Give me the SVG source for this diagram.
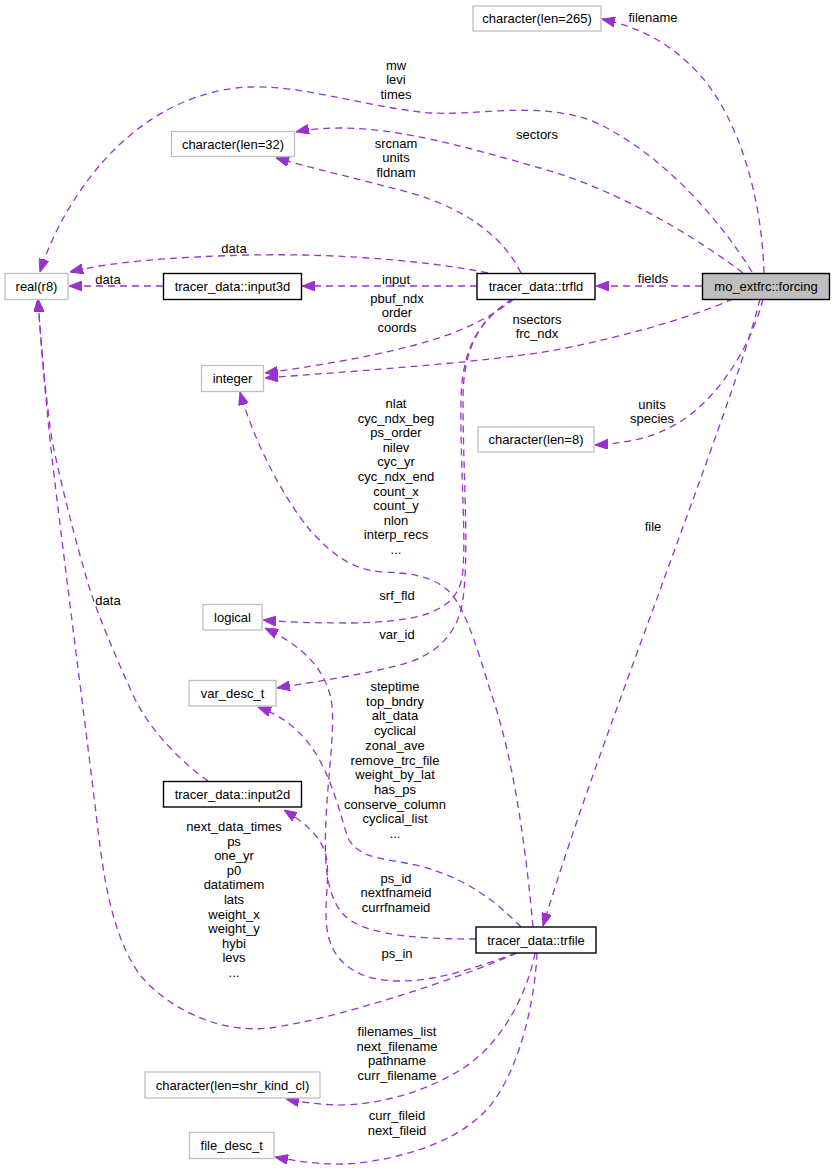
<svg xmlns="http://www.w3.org/2000/svg" width="835" height="1170" viewBox="0 0 835 1170">
<style>
text{font-family:"Liberation Sans",Arial,sans-serif;font-size:13px;fill:#000;text-anchor:middle}
.ng{fill:#fff;stroke:#bfbfbf;stroke-width:1.3}
.nb{fill:#fff;stroke:#000;stroke-width:1.4}
.nf{fill:#bfbfbf;stroke:#000;stroke-width:1.4}
.e{fill:none;stroke:#9a32cd;stroke-width:1.3;stroke-dasharray:7,5;marker-end:url(#ah)}
</style>
<defs>
<marker id="ah" viewBox="0 0 13 10" refX="13" refY="5" markerWidth="13" markerHeight="10" markerUnits="userSpaceOnUse" orient="auto"><path d="M0,0 L13,5 L0,10 z" fill="#9a32cd" stroke="#9a32cd"/></marker>
</defs>
<rect width="835" height="1170" fill="#fff"/>
<g id="edges">
<path class="e" d="M764,273 C762,200 740,120 700,75 C670,42 640,28 602,19"/>
<path class="e" d="M752,272 C720,220 660,150 590,120 C530,100 470,118 420,112 C360,105 300,85 250,87 C180,90 130,130 100,165 C70,200 50,240 40,272"/>
<path class="e" d="M743,273 C700,240 620,190 540,168 C470,148 400,128 340,128 C320,128 305,130 296,132"/>
<path class="e" d="M521,273 C505,240 470,210 411,193 C360,179 310,168 276,158"/>
<path class="e" d="M488,273 C440,263 350,253 250,255 C170,257 110,262 70,272"/>
<path class="e" d="M163,286 L69,286"/>
<path class="e" d="M477,286 L302,286"/>
<path class="e" d="M702,286 L596,286"/>
<path class="e" d="M514,299 C490,318 460,333 415,345 C370,357 310,367 265,373"/>
<path class="e" d="M733,299 C690,318 620,338 550,351 C470,364 340,372 265,378"/>
<path class="e" d="M763,299 C753,338 728,385 690,415 C660,437 630,443 595,445"/>
<path class="e" d="M760,299 C745,360 700,480 660,590 C620,700 575,820 543,926"/>
<path class="e" d="M513,299 C478,320 462,350 461,400 C460,470 467,545 462,578 C455,612 420,622 350,623 C310,623 285,622 263,620"/>
<path class="e" d="M513,299 C478,320 463,350 463,400 C463,480 470,560 462,605 C455,640 430,657 400,665 C360,675 320,681 277,688"/>
<path class="e" d="M533,927 C527,860 515,760 490,690 C475,640 462,600 445,588 C430,576 410,573 383,572 C350,570 330,552 310,530 C285,500 255,445 240,392"/>
<path class="e" d="M476,939 C430,939 375,937 350,920 C325,903 324,860 326,820 C328,770 337,720 330,695 C322,665 300,645 265,628"/>
<path class="e" d="M521,927 C495,900 465,878 420,866 C385,858 360,860 348,838 C340,815 332,775 310,745 C292,722 276,714 258,707"/>
<path class="e" d="M516,953 C480,966 440,981 400,981 C360,981 335,965 328,935 C322,905 332,875 325,852 C318,832 300,820 284,810"/>
<path class="e" d="M517,953 C460,978 340,1018 270,1028 C215,1034 165,1005 140,975 C115,940 105,890 98,830 C85,720 60,530 50,440 C45,390 41,345 38,299"/>
<path class="e" d="M208,781 C185,765 150,732 133,695 C115,655 100,620 90,590 C75,540 60,480 52,440 C46,400 41,345 38,299"/>
<path class="e" d="M535,953 C528,990 505,1040 465,1067 C430,1090 380,1106 334,1105 C315,1104 300,1102 286,1099"/>
<path class="e" d="M537,953 C535,1000 520,1070 489,1107 C465,1135 420,1155 360,1163 C330,1166 300,1162 275,1157"/>
</g>
<g id="edge-labels">
<text x="653" y="21.5">filename</text>
<text x="396" y="69.5">mw</text><text x="396" y="84">levi</text><text x="396" y="98.5">times</text>
<text x="537" y="138.5">sectors</text>
<text x="396" y="147.5">srcnam</text><text x="396" y="162">units</text><text x="396" y="176.5">fldnam</text>
<text x="234" y="252.5">data</text>
<text x="108" y="283.5">data</text>
<text x="396" y="283.5">input</text>
<text x="653" y="283">fields</text>
<text x="397" y="302.5">pbuf_ndx</text><text x="397" y="317">order</text><text x="397" y="331.5">coords</text>
<text x="537" y="323.5">nsectors</text><text x="537" y="337.5">frc_ndx</text>
<text x="652" y="408.5">units</text><text x="652" y="422.5">species</text>
<text x="653" y="531">file</text>
<text x="396" y="408">nlat</text>
<text x="396" y="422.6">cyc_ndx_beg</text>
<text x="396" y="437.2">ps_order</text>
<text x="396" y="451.8">nilev</text>
<text x="396" y="466.4">cyc_yr</text>
<text x="396" y="481">cyc_ndx_end</text>
<text x="396" y="495.6">count_x</text>
<text x="396" y="510.2">count_y</text>
<text x="396" y="524.8">nlon</text>
<text x="396" y="539.4">interp_recs</text>
<text x="396" y="554">...</text>
<text x="397" y="600">srf_fld</text>
<text x="397" y="639">var_id</text>
<text x="395" y="691">steptime</text>
<text x="395" y="705.7">top_bndry</text>
<text x="395" y="720.4">alt_data</text>
<text x="395" y="735.1">cyclical</text>
<text x="395" y="749.8">zonal_ave</text>
<text x="395" y="764.5">remove_trc_file</text>
<text x="395" y="779.2">weight_by_lat</text>
<text x="395" y="793.9">has_ps</text>
<text x="395" y="808.6">conserve_column</text>
<text x="395" y="823.3">cyclical_list</text>
<text x="395" y="838">...</text>
<text x="108" y="604.5">data</text>
<text x="234" y="831">next_data_times</text>
<text x="234" y="845.6">ps</text>
<text x="234" y="860.2">one_yr</text>
<text x="234" y="874.8">p0</text>
<text x="234" y="889.4">datatimem</text>
<text x="234" y="904">lats</text>
<text x="234" y="918.6">weight_x</text>
<text x="234" y="933.2">weight_y</text>
<text x="234" y="947.8">hybi</text>
<text x="234" y="962.4">levs</text>
<text x="234" y="977">...</text>
<text x="396" y="882.8">ps_id</text><text x="396" y="897.3">nextfnameid</text><text x="396" y="911.8">currfnameid</text>
<text x="397" y="958">ps_in</text>
<text x="397" y="1036">filenames_list</text>
<text x="397" y="1050.6">next_filename</text>
<text x="397" y="1065.2">pathname</text>
<text x="397" y="1079.8">curr_filename</text>
<text x="397" y="1120">curr_fileid</text><text x="397" y="1134.5">next_fileid</text>
</g>
<g id="n_char265"><rect class="ng" x="473" y="6" width="128" height="25"/><text x="537" y="23">character(len=265)</text></g>
<g id="n_char32"><rect class="ng" x="171.5" y="131.5" width="123" height="25"/><text x="233" y="148.5">character(len=32)</text></g>
<g id="n_real_r8"><rect class="ng" x="5" y="273.5" width="63" height="26"/><text x="36.5" y="291">real(r8)</text></g>
<g id="n_input3d"><rect class="nb" x="163.5" y="273.5" width="138" height="26"/><text x="232.5" y="291">tracer_data::input3d</text></g>
<g id="n_trfld"><rect class="nb" x="477" y="273.5" width="118" height="26"/><text x="536" y="291">tracer_data::trfld</text></g>
<g id="n_forcing"><rect class="nf" x="702.5" y="273.5" width="127" height="26"/><text x="766" y="291">mo_extfrc::forcing</text></g>
<g id="n_integer"><rect class="ng" x="201.5" y="365.5" width="62" height="26"/><text x="232.5" y="383">integer</text></g>
<g id="n_char8"><rect class="ng" x="478" y="427" width="116" height="25"/><text x="536" y="444">character(len=8)</text></g>
<g id="n_logical"><rect class="ng" x="203" y="604.5" width="59" height="25.5"/><text x="232.5" y="621.5">logical</text></g>
<g id="n_var_desc_t"><rect class="ng" x="189" y="680.5" width="87" height="25.5"/><text x="232.5" y="697.5">var_desc_t</text></g>
<g id="n_input2d"><rect class="nb" x="163.5" y="781.5" width="138" height="25.5"/><text x="232.5" y="798.5">tracer_data::input2d</text></g>
<g id="n_trfile"><rect class="nb" x="476" y="927" width="120" height="26"/><text x="536" y="944.5">tracer_data::trfile</text></g>
<g id="n_char_shr"><rect class="ng" x="145" y="1072" width="175" height="26"/><text x="232.5" y="1089.5">character(len=shr_kind_cl)</text></g>
<g id="n_file_desc_t"><rect class="ng" x="189.5" y="1132.5" width="84.5" height="26"/><text x="231.7" y="1150">file_desc_t</text></g>
</svg>
